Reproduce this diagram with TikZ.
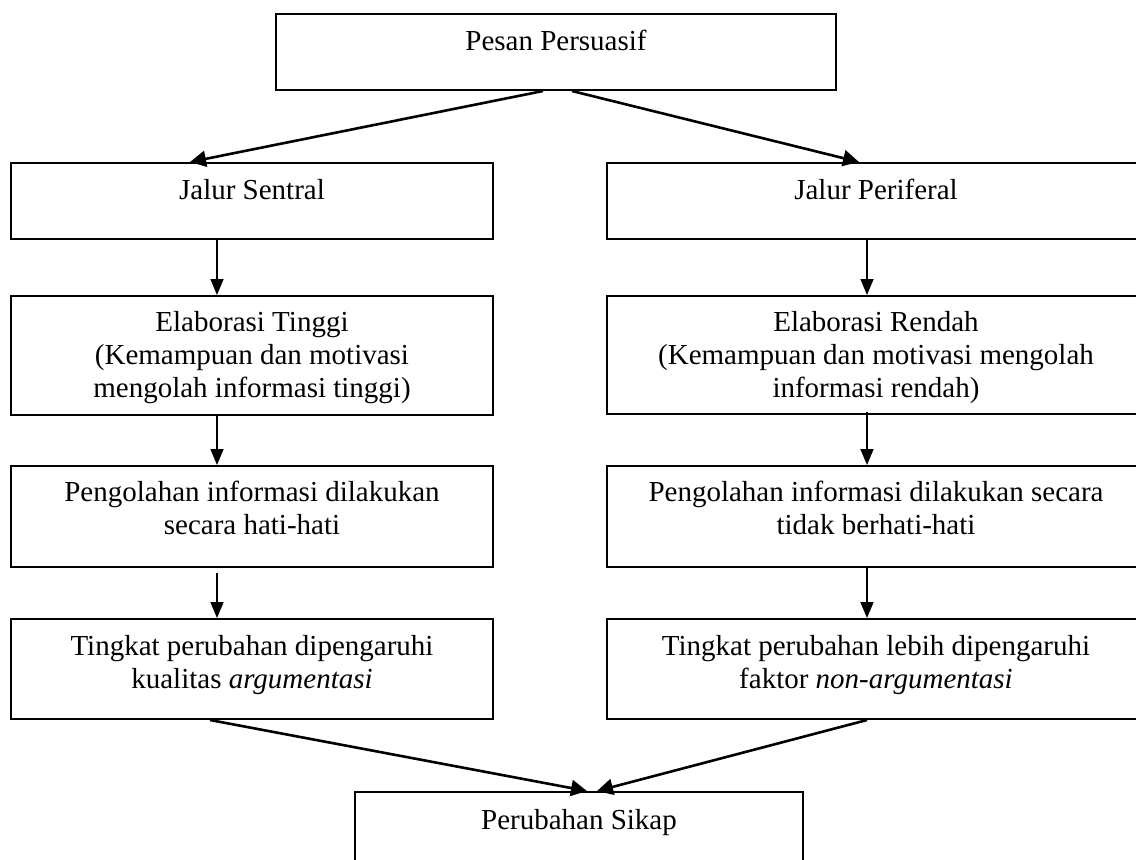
\documentclass[tikz,border=0pt]{standalone}
\usepackage{fontspec}
\setmainfont{Liberation Serif}
\usetikzlibrary{positioning, arrows.meta, calc}

\begin{document}
\begin{tikzpicture}[x=0.5pt, y=-0.5pt,
    box/.style={draw, line width=1pt, align=center, inner sep=0pt,
                font=\fontsize{14.5}{16.5}\selectfont},
    lift/.style={text depth=#1},
    thinarrow/.style={-{Triangle[length=8pt, width=6.5pt]}, line width=0.8pt},
    thickarrow/.style={-{Triangle[length=8pt, width=8pt]}, line width=1.3pt}]
  \useasboundingbox (0,0) rectangle (1136,859);
  \begin{scope}
    \clip (0,0) rectangle (1136,859);

    \node[box, lift=12pt, minimum width=280pt, minimum height=38pt] (pesan) at (556,52) {Pesan Persuasif};

    \node[box, lift=12pt, minimum width=241pt, minimum height=38pt] (sentral) at (252,201) {Jalur Sentral};
    \node[box, lift=12pt, minimum width=269pt, minimum height=38pt] (periferal) at (876,201) {Jalur Periferal};

    \node[box, lift=1pt, minimum width=241pt, minimum height=59.5pt] (elabT) at (252,355.5)
      {Elaborasi Tinggi\\(Kemampuan dan motivasi\\mengolah informasi tinggi)};
    \node[box, lift=1pt, minimum width=269pt, minimum height=59pt] (elabR) at (876,355)
      {Elaborasi Rendah\\(Kemampuan dan motivasi mengolah\\informasi rendah)};

    \node[box, lift=9pt, minimum width=241pt, minimum height=50.5pt] (olahT) at (252,516.5)
      {Pengolahan informasi dilakukan\\secara hati-hati};
    \node[box, lift=9pt, minimum width=269pt, minimum height=50.5pt] (olahR) at (876,516.5)
      {Pengolahan informasi dilakukan secara\\tidak berhati-hati};

    \node[box, lift=7pt, minimum width=241pt, minimum height=50pt] (tingT) at (252,669)
      {Tingkat perubahan dipengaruhi\\kualitas \textit{argumentasi}};
    \node[box, lift=7pt, minimum width=269pt, minimum height=50pt] (tingR) at (876,669)
      {Tingkat perubahan lebih dipengaruhi\\faktor \textit{non-argumentasi}};

    \node[box, lift=11pt, minimum width=224pt, minimum height=38pt] (sikap) at (579,830) {Perubahan Sikap};

    \coordinate (lcol) at (217,0);
    \coordinate (rcol) at (867,0);

    \draw[thickarrow] ($(pesan.south)+(-13,0)$) -- ($(sentral.north)+(-62,0)$);
    \draw[thickarrow] ($(pesan.south)+(16,0)$) -- ($(periferal.north)+(-17,0)$);

    \draw[thinarrow] (sentral.south -| lcol) -- (elabT.north -| lcol);
    \draw[thinarrow] (elabT.south -| lcol) -- (olahT.north -| lcol);
    \draw[thinarrow] ($(olahT.south -| lcol)+(0,5)$) -- (tingT.north -| lcol);

    \draw[thinarrow] (periferal.south -| rcol) -- (elabR.north -| rcol);
    \draw[thinarrow] ($(elabR.south -| rcol)+(0,-3)$) -- (olahR.north -| rcol);
    \draw[thinarrow] ($(olahR.south -| rcol)+(0,-2)$) -- (tingR.north -| rcol);

    \draw[thickarrow] ($(tingT.south)+(-42,0)$) -- ($(sikap.north)+(8,0)$);
    \draw[thickarrow] ($(tingR.south)+(-9,0)$) -- ($(sikap.north)+(18,0)$);
  \end{scope}
\end{tikzpicture}
\end{document}
